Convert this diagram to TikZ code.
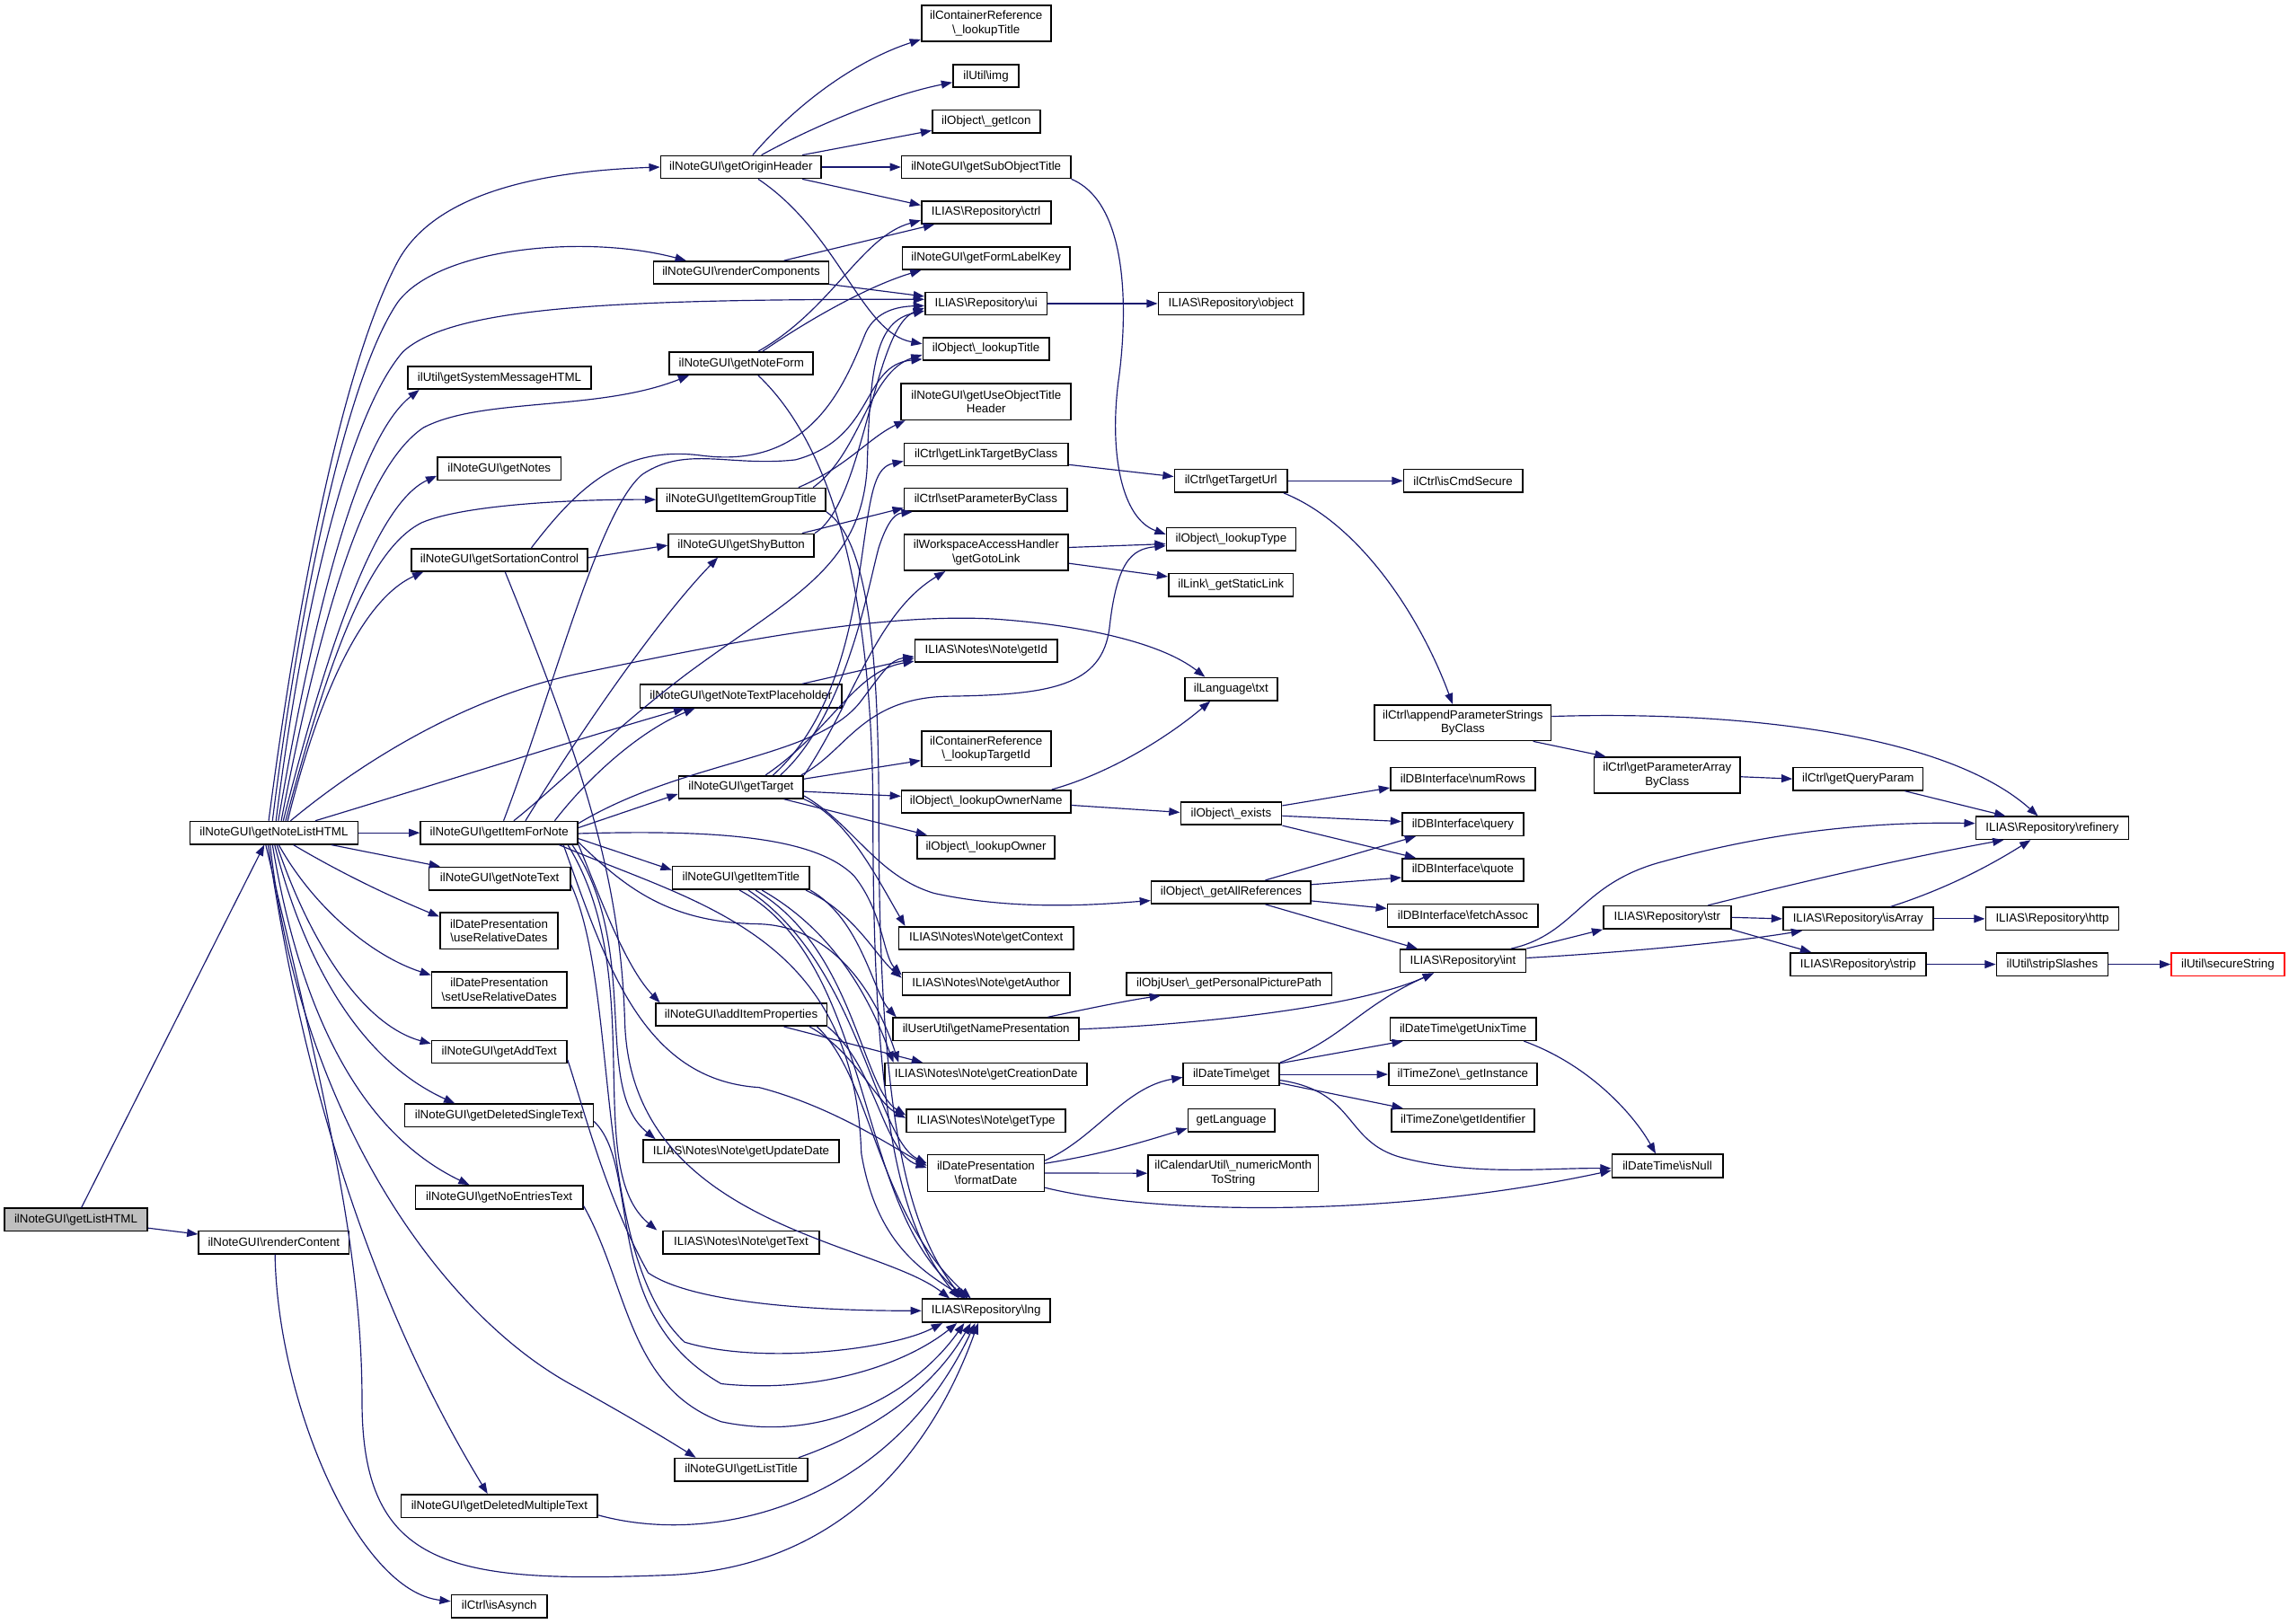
\documentclass[tikz,border=0pt]{standalone}
\usepackage{fontspec}
\setmainfont{Liberation Sans}
\usetikzlibrary{arrows.meta}
\definecolor{edgec}{HTML}{191970}
\newcommand\BS{\textbackslash}
\newcommand\nb[7][]{\node[nd,#1,minimum width={(#3)-(#2)},minimum height={(#5)-(#4)}] (#6) at ({((#2)+(#3))/2},{((#4)+(#5))/2}) {#7};}
\begin{document}
\begin{tikzpicture}[x=1pt,y=-1pt,
 nd/.style={draw=black,line width=1pt,fill=white,inner sep=0pt,font=\fontsize{8.2}{9.5}\selectfont,align=center},
 ed/.style={draw=edgec,line width=0.72pt,-{Triangle[length=7.5pt,width=5.5pt]}}]
\useasboundingbox (0,0) rectangle (1568,1112);
% ---- nodes
\nb[fill={rgb,255:red,191;green,191;blue,191}]{3}{101}{827.8}{843.3}{lh}{ilNoteGUI\BS getListHTML}
\nb{130.1}{245.2}{562.8}{578.3}{gnl}{ilNoteGUI\BS getNoteListHTML}
\nb{136.1}{239.1}{843.3}{859}{rc}{ilNoteGUI\BS renderContent}
\nb{309.2}{374.8}{1092.7}{1108.4}{asy}{ilCtrl\BS isAsynch}
\nb{452.6}{562.6}{106.7}{122.2}{goh}{ilNoteGUI\BS getOriginHeader}
\nb{447.8}{567.6}{179}{194.3}{rcomp}{ilNoteGUI\BS renderComponents}
\nb{279.3}{405}{251}{266.6}{gsm}{ilUtil\BS getSystemMessageHTML}
\nb{458.6}{557.1}{241.2}{256.7}{gnf}{ilNoteGUI\BS getNoteForm}
\nb{299.7}{384.3}{313.2}{329}{gns}{ilNoteGUI\BS getNotes}
\nb{449.8}{565.6}{334.4}{350.2}{gigt}{ilNoteGUI\BS getItemGroupTitle}
\nb{281.8}{402.6}{375.8}{391.3}{gsc}{ilNoteGUI\BS getSortationControl}
\nb{457.9}{557.6}{365.8}{381.4}{gsb}{ilNoteGUI\BS getShyButton}
\nb{438.5}{576.7}{469}{484.8}{gntp}{ilNoteGUI\BS getNoteTextPlaceholder}
\nb{288.1}{395.8}{562.8}{578.3}{gifn}{ilNoteGUI\BS getItemForNote}
\nb{464.9}{550.3}{531.5}{547}{gt}{ilNoteGUI\BS getTarget}
\nb{293.9}{390.6}{594.1}{609.7}{gntx}{ilNoteGUI\BS getNoteText}
\nb{460.6}{554.6}{593.6}{609.4}{git}{ilNoteGUI\BS getItemTitle}
\nb{301.4}{382.3}{625.4}{650.2}{urd}{ilDatePresentation\\\BS useRelativeDates}
\nb{295.7}{388.3}{665.7}{690.4}{surd}{ilDatePresentation\\\BS setUseRelativeDates}
\nb{449.1}{566.4}{687.4}{702.9}{aip}{ilNoteGUI\BS addItemProperties}
\nb{295.7}{388.3}{712.8}{728.4}{gat}{ilNoteGUI\BS getAddText}
\nb{277.3}{406.4}{756.4}{772.1}{gdst}{ilNoteGUI\BS getDeletedSingleText}
\nb{440.5}{574.9}{780.9}{796.6}{gud}{ILIAS\BS Notes\BS Note\BS getUpdateDate}
\nb{284.6}{399.3}{812.3}{828.1}{gnet}{ilNoteGUI\BS getNoEntriesText}
\nb{454.1}{561.3}{843.3}{859}{ntext}{ILIAS\BS Notes\BS Note\BS getText}
\nb{462.1}{553.3}{999.1}{1014.8}{glt}{ilNoteGUI\BS getListTitle}
\nb{274.8}{409.4}{1023.9}{1039.6}{gdmt}{ilNoteGUI\BS getDeletedMultipleText}
\nb{631.2}{719.8}{3.5}{28.3}{crlt}{ilContainerReference\\\BS\_lookupTitle}
\nb{652.8}{698}{44.3}{59.8}{img}{ilUtil\BS img}
\nb{638.7}{712.5}{75.4}{90.9}{gic}{ilObject\BS\_getIcon}
\nb{617.6}{733.4}{106.7}{122.2}{gsot}{ilNoteGUI\BS getSubObjectTitle}
\nb{631.2}{719.8}{137.8}{153.3}{ctrl}{ILIAS\BS Repository\BS ctrl}
\nb{618.1}{732.9}{169.1}{184.6}{gflk}{ilNoteGUI\BS getFormLabelKey}
\nb{633.7}{717.3}{200.2}{215.7}{ui}{ILIAS\BS Repository\BS ui}
\nb{632.2}{718.6}{231.3}{246.8}{olt}{ilObject\BS\_lookupTitle}
\nb{617.4}{733.7}{262.8}{287.6}{guoth}{ilNoteGUI\BS getUseObjectTitle\\Header}
\nb{619.4}{731.7}{303.6}{319.1}{gltc}{ilCtrl\BS getLinkTargetByClass}
\nb{619.4}{731.2}{334.4}{350.2}{spc}{ilCtrl\BS setParameterByClass}
\nb{619.4}{731.7}{366}{390.9}{ggl}{ilWorkspaceAccessHandler\\\BS getGotoLink}
\nb{626.7}{724.4}{438}{453.5}{nid}{ILIAS\BS Notes\BS Note\BS getId}
\nb{631.2}{719.8}{500.9}{525.3}{ltid}{ilContainerReference\\\BS\_lookupTargetId}
\nb{617.6}{733.4}{541.4}{556.9}{lon}{ilObject\BS\_lookupOwnerName}
\nb{628.2}{722.6}{572.5}{588.2}{low}{ilObject\BS\_lookupOwner}
\nb{615.6}{735.4}{634.9}{650.4}{nctx}{ILIAS\BS Notes\BS Note\BS getContext}
\nb{618.1}{732.9}{666.2}{681.7}{nauth}{ILIAS\BS Notes\BS Note\BS getAuthor}
\nb{611.8}{739.2}{697.3}{712.8}{gnp}{ilUserUtil\BS getNamePresentation}
\nb{606.3}{744.7}{728.4}{743.7}{ncd}{ILIAS\BS Notes\BS Note\BS getCreationDate}
\nb{620.9}{729.9}{759.9}{775.7}{ntype}{ILIAS\BS Notes\BS Note\BS getType}
\nb{635.4}{715.3}{791.1}{816.2}{fdate}{ilDatePresentation\\\BS formatDate}
\nb{631.7}{719.3}{890}{906}{lng}{ILIAS\BS Repository\BS lng}
\nb{793.5}{892.9}{200.2}{215.7}{obj}{ILIAS\BS Repository\BS object}
\nb{804.5}{881.9}{321.5}{337.3}{gtu}{ilCtrl\BS getTargetUrl}
\nb{961.5}{1042.9}{321.5}{337.3}{ics}{ilCtrl\BS isCmdSecure}
\nb{799}{887.7}{361.5}{377.4}{ltype}{ilObject\BS\_lookupType}
\nb{800.5}{885.9}{392.8}{408.5}{gsl}{ilLink\BS\_getStaticLink}
\nb{811.6}{874.9}{464.3}{479.9}{txt}{ilLanguage\BS txt}
\nb{941.7}{1062.5}{483}{507.4}{apsc}{ilCtrl\BS appendParameterStrings\\ByClass}
\nb{1091.9}{1192.1}{518.8}{543.5}{gpac}{ilCtrl\BS getParameterArray\\ByClass}
\nb{952.5}{1051.7}{525.8}{541.4}{nrows}{ilDBInterface\BS numRows}
\nb{808.8}{877.9}{549.6}{565.1}{oex}{ilObject\BS\_exists}
\nb{960.5}{1043.7}{556.9}{572.5}{query}{ilDBInterface\BS query}
\nb{960.5}{1043.7}{588.2}{603.8}{quote}{ilDBInterface\BS quote}
\nb{788.7}{898}{603.5}{619.1}{gar}{ilObject\BS\_getAllReferences}
\nb{950.5}{1053.7}{619.3}{635.1}{fassoc}{ilDBInterface\BS fetchAssoc}
\nb{959}{1045.2}{650.4}{666.2}{int}{ILIAS\BS Repository\BS int}
\nb{1098.4}{1185.7}{620.7}{636.3}{str}{ILIAS\BS Repository\BS str}
\nb{771.5}{912.3}{666.4}{681.7}{gppp}{ilObjUser\BS\_getPersonalPicturePath}
\nb{952.2}{1052.2}{697.3}{712.8}{gut}{ilDateTime\BS getUnixTime}
\nb{810.6}{876.4}{728.4}{743.7}{dtg}{ilDateTime\BS get}
\nb{951.2}{1053}{728.4}{743.7}{tzgi}{ilTimeZone\BS\_getInstance}
\nb{813.8}{873.1}{759.7}{775.4}{glang}{getLanguage}
\nb{953.2}{1051.2}{759.7}{775.4}{tzid}{ilTimeZone\BS getIdentifier}
\nb{786.5}{903}{791.4}{816.2}{nmts}{ilCalendarUtil\BS\_numericMonth\\ToString}
\nb{1104.2}{1180.1}{790.9}{806.6}{isnull}{ilDateTime\BS isNull}
\nb{1228.3}{1317.3}{525.8}{541.4}{gqp}{ilCtrl\BS getQueryParam}
\nb{1353.5}{1458.1}{559.5}{575}{ref}{ILIAS\BS Repository\BS refinery}
\nb{1221.4}{1324.2}{621.7}{637.2}{isarr}{ILIAS\BS Repository\BS isArray}
\nb{1360.2}{1451.4}{621.7}{637.2}{http}{ILIAS\BS Repository\BS http}
\nb{1226.4}{1319.3}{652.8}{668.5}{strip}{ILIAS\BS Repository\BS strip}
\nb{1367.6}{1444}{652.8}{668.5}{sslash}{ilUtil\BS stripSlashes}
\nb[draw=red]{1487.4}{1564.8}{652.8}{668.5}{sec}{ilUtil\BS secureString}
% ---- edges: getListHTML
\draw[ed] ([xshift=3.8]lh.north) -- ([xshift=-6.6]gnl.south);
\draw[ed] ([yshift=-5.8]lh.east) -- ([yshift=5.6]rc.west);
\draw[ed] ([xshift=0.8]rc.south) .. controls (190,960) and (245,1090) .. ([yshift=3.5]asy.west);
% getNoteListHTML
\draw[ed] ([xshift=-3.6]gnl.north) .. controls (200,440) and (230,260) .. (272,180) .. controls (293,140) and (350,118) .. (goh.west);
\draw[ed] ([xshift=-1]gnl.north) .. controls (203,430) and (235,262) .. (272.5,207) .. controls (300,170) and (400,160) .. ([xshift=-37.7]rcomp.north);
\draw[ed] ([xshift=1.4]gnl.north) .. controls (207,420) and (238,285) .. (276,241) .. controls (310,210) and (420,205) .. ([yshift=2.9]ui.west);
\draw[ed] ([xshift=3]gnl.north) .. controls (215,420) and (245,300) .. ([xshift=-55]gsm.south);
\draw[ed] ([xshift=5]gnl.north) .. controls (220,420) and (250,320) .. (290,293) .. controls (330,272) and (410,282) .. ([xshift=-35.8]gnf.south);
\draw[ed] ([xshift=6.4]gnl.north) .. controls (225,440) and (258,345) .. ([yshift=-4.9]gns.west);
\draw[ed] ([xshift=8]gnl.north) .. controls (228,440) and (255,375) .. (289,358) .. controls (320,345) and (400,342) .. (gigt.west);
\draw[ed] ([xshift=9.4]gnl.north) .. controls (220,470) and (250,410) .. ([xshift=-52.2]gsc.south);
\draw[ed] ([xshift=11.4]gnl.north) .. controls (250,520) and (320,478) .. (394,462) .. controls (500,440) and (600,420) .. (680,424) .. controls (740,428) and (795,440) .. ([xshift=-17.8]txt.north);
\draw[ed] ([xshift=28.3]gnl.north) .. controls (290,540) and (400,505) .. ([xshift=-38.6]gntp.south);
\draw[ed] (gnl.east) -- (gifn.west);
\draw[ed] ([xshift=39.3]gnl.south) -- ([xshift=-40.8]gntx.north);
\draw[ed] ([xshift=13.3]gnl.south) .. controls (230,596) and (262,612) .. ([yshift=9.8]urd.west);
\draw[ed] ([xshift=3.3]gnl.south) .. controls (215,622) and (255,655) .. ([yshift=10]surd.west);
\draw[ed] ([xshift=2]gnl.south) .. controls (212,645) and (248,702) .. ([yshift=5.6]gat.west);
\draw[ed] ([xshift=0.5]gnl.south) .. controls (210,665) and (250,728) .. ([xshift=-30.3]gdst.north);
\draw[ed] ([xshift=-1]gnl.south) .. controls (205,690) and (245,775) .. ([xshift=-20.4]gnet.north);
\draw[ed] ([xshift=-2.6]gnl.south) .. controls (205,760) and (300,900) .. (394,950) .. controls (430,970) and (455,985) .. ([xshift=-31]glt.north);
\draw[ed] ([xshift=-4]gnl.south) .. controls (210,760) and (262,905) .. ([xshift=-8.1]gdmt.north);
\draw[ed] ([xshift=-5.6]gnl.south) .. controls (225,760) and (248,860) .. (248,960) .. controls (248,1075) and (310,1085) .. (460,1079) .. controls (580,1073) and (640,990) .. ([xshift=-5.5]lng.south);
% getOriginHeader
\draw[ed] ([xshift=8]goh.north) .. controls (545,72) and (585,42) .. ([yshift=-11.1]crlt.west);
\draw[ed] ([xshift=14]goh.north) .. controls (560,85) and (610,65) .. ([yshift=-4.4]img.west);
\draw[ed] ([xshift=42]goh.north) -- ([yshift=-6.3]gic.west);
\draw[ed] (goh.east) -- (gsot.west);
\draw[ed] ([xshift=42]goh.south) -- ([yshift=5]ctrl.west);
\draw[ed] ([xshift=11.8]goh.south) .. controls (575,160) and (590,228) .. ([yshift=3.5]olt.west);
\draw[ed] (gsot.south east) .. controls (775,140) and (772,220) .. (766,262) .. controls (760,310) and (768,355) .. ([yshift=3.4]ltype.west);
% renderComponents, ui
\draw[ed] ([xshift=29.3]rcomp.north) -- ([xshift=-35.5]ctrl.south);
\draw[ed] (rcomp.south east) -- ([yshift=4.9]ui.west);
\draw[ed] (ui.east) -- (obj.west);
% getNoteForm
\draw[ed] ([xshift=11.5]gnf.north) .. controls (570,212) and (590,162) .. ([yshift=-5.4]ctrl.west);
\draw[ed] ([xshift=14.5]gnf.north) .. controls (560,215) and (598,195) .. ([xshift=-44.5]gflk.south);
\draw[ed] ([xshift=11.5]gnf.south) .. controls (575,310) and (598,420) .. (598,560) .. controls (598,760) and (615,840) .. ([xshift=-18.5]lng.north);
% getItemGroupTitle
\draw[ed] ([xshift=39.3]gigt.north) .. controls (580,320) and (595,300) .. ([xshift=-55.5]guoth.south);
\draw[ed] ([xshift=49.3]gigt.north) .. controls (590,310) and (595,255) .. ([yshift=-4]olt.west);
\draw[ed] (gigt.south east) .. controls (595,370) and (602,450) .. (602,560) .. controls (602,760) and (620,840) .. ([xshift=-16]lng.north);
% getShyButton
\draw[ed] ([xshift=41.7]gsb.north) -- ([yshift=-5.7]spc.west);
\draw[ed] (gsb.north east) .. controls (592,345) and (598,225) .. ([yshift=-3]ui.west);
% getSortationControl
\draw[ed] ([yshift=1.5]gsc.east) -- (gsb.west);
\draw[ed] ([xshift=21.8]gsc.north) .. controls (395,335) and (425,305) .. (480,312) .. controls (555,322) and (578,265) .. (593,228) .. controls (600,213) and (615,210) .. ([yshift=-1.5]ui.west);
\draw[ed] ([xshift=3.8]gsc.south) .. controls (398,520) and (425,600) .. (428,700) .. controls (432,840) and (600,850) .. ([xshift=-25]lng.north);
% getItemForNote
\draw[ed] ([xshift=18]gifn.north) .. controls (395,505) and (450,425) .. ([xshift=-16]gsb.south);
\draw[ed] ([xshift=38]gifn.north) .. controls (405,530) and (440,500) .. ([xshift=-31.6]gntp.south);
\draw[ed] ([yshift=3.5]gifn.east) -- ([yshift=-4.7]gt.west);
\draw[ed] ([yshift=-4]gifn.east) -- ([yshift=5.5]git.west);
\draw[ed] (gifn.south east) .. controls (410,612) and (428,662) .. ([xshift=-55.7]aip.north);
\draw[ed] ([xshift=50]gifn.south) .. controls (440,650) and (405,745) .. ([xshift=-58.7]gud.north);
\draw[ed] ([xshift=47]gifn.south) .. controls (445,670) and (398,800) .. ([xshift=-57.7]ntext.north);
\draw[ed] ([xshift=3]gifn.north) .. controls (380,470) and (410,350) .. (440,325) .. controls (470,305) and (500,320) .. (545,315) .. controls (600,300) and (590,250) .. ([yshift=-7]olt.west);
\draw[ed] ([xshift=10]gifn.north) .. controls (380,540) and (420,500) .. (470,462) .. controls (540,410) and (590,390) .. (594,320) .. controls (596,250) and (600,220) .. ([yshift=-5]ui.west);
\draw[ed] ([yshift=6.5]gifn.east) .. controls (470,520) and (560,520) .. (590,480) .. controls (605,460) and (610,452) .. ([yshift=-4]nid.west);
\draw[ed] ([yshift=-0.5]gifn.east) .. controls (500,568) and (560,575) .. (585,600) .. controls (605,625) and (605,655) .. ([yshift=6]nauth.west);
\draw[ed] ([yshift=-6.5]gifn.east) .. controls (430,610) and (460,632) .. (519,633) .. controls (570,634) and (600,680) .. ([xshift=-60]ncd.north);
\draw[ed] ([xshift=44]gifn.south) .. controls (415,660) and (440,740) .. (520,745) .. controls (570,758) and (610,785) .. ([yshift=5]fdate.west);
\draw[ed] ([xshift=41]gifn.south) .. controls (480,620) and (585,640) .. (590,790) .. controls (600,850) and (630,870) .. ([xshift=-14]lng.north);
% getTarget
\draw[ed] ([xshift=16.8]gt.north) .. controls (570,500) and (585,460) .. ([yshift=-7.2]nid.west);
\draw[ed] ([xshift=22]gt.north) .. controls (575,490) and (585,420) .. (592,370) .. controls (597,335) and (600,320) .. ([yshift=-4.6]gltc.west);
\draw[ed] ([xshift=27]gt.north) .. controls (580,490) and (595,400) .. (602,375) .. controls (607,360) and (612,352) .. ([xshift=-50.3]spc.south);
\draw[ed] (gt.north east) .. controls (585,480) and (600,420) .. ([xshift=-28]ggl.south);
\draw[ed] ([yshift=5.6]gt.east) -- ([yshift=-7.9]ltid.west);
\draw[ed] ([yshift=-3]gt.east) -- ([yshift=3.7]lon.west);
\draw[ed] ([xshift=29.4]gt.south) -- ([xshift=-40.4]low.north);
\draw[ed] ([yshift=-6]gt.east) .. controls (585,565) and (600,600) .. (640,612) .. controls (700,625) and (760,619) .. ([yshift=-5.7]gar.west);
\draw[ed] (gt.south east) .. controls (580,560) and (600,600) .. ([xshift=-55.5]nctx.north);
\draw[ed] ([xshift=-2]gt.north east) .. controls (580,515) and (590,478) .. (650,477) .. controls (720,476) and (755,470) .. (760,430) .. controls (765,385) and (775,376) .. ([yshift=-4.5]ltype.west);
\draw[ed] ([xshift=41.9]gntp.north) -- ([yshift=-5.2]nid.west);
% getItemTitle
\draw[ed] ([xshift=44.4]git.south) .. controls (585,625) and (600,655) .. ([yshift=4]nauth.west);
\draw[ed] (git.south east) .. controls (590,630) and (598,680) .. ([xshift=-61.5]gnp.north);
\draw[ed] ([xshift=14.4]git.south) .. controls (575,640) and (598,690) .. ([xshift=-63.5]ncd.north);
\draw[ed] ([xshift=10]git.south) .. controls (585,650) and (590,745) .. ([yshift=3.8]ntype.west);
\draw[ed] ([xshift=5]git.south) .. controls (588,660) and (600,780) .. ([yshift=6.6]fdate.west);
\draw[ed] ([xshift=-1]git.south) .. controls (600,660) and (585,830) .. ([xshift=-12.5]lng.north);
% addItemProperties
\draw[ed] ([xshift=29.2]aip.south) -- ([xshift=-43.5]ncd.north);
\draw[ed] ([xshift=46.8]aip.south) .. controls (585,720) and (600,755) .. ([yshift=1.8]ntype.west);
\draw[ed] (aip.south east) .. controls (600,730) and (605,790) .. ([yshift=3.6]fdate.west);
\draw[ed] ([xshift=52]aip.south) .. controls (598,740) and (600,830) .. ([xshift=-10.5]lng.north);
% others into lng
\draw[ed] ([yshift=-5.4]gat.east) .. controls (400,760) and (415,820) .. (444,872) .. controls (470,890) and (540,898) .. (lng.west);
\draw[ed] ([yshift=-4]gntx.east) .. controls (425,680) and (405,860) .. (469,919.5) .. controls (520,935) and (610,925) .. ([xshift=-30]lng.south);
\draw[ed] ([yshift=-4]gdst.east) .. controls (440,800) and (410,900) .. (494,948) .. controls (560,955) and (620,935) .. ([xshift=-20]lng.south);
\draw[ed] ([yshift=-6]gnet.east) .. controls (430,880) and (430,950) .. (494,974) .. controls (570,990) and (630,950) .. ([xshift=-15]lng.south);
\draw[ed] ([xshift=39.3]glt.north) .. controls (600,980) and (640,950) .. ([xshift=-10.5]lng.south);
\draw[ed] ([yshift=-6.3]gdmt.east) .. controls (490,1060) and (610,1030) .. ([xshift=-7.5]lng.south);
% right part
\draw[ed] ([yshift=-7]gltc.east) -- ([yshift=2.9]gtu.west);
\draw[ed] (gtu.east) -- (ics.west);
\draw[ed] ([xshift=36.2]gtu.south) .. controls (930,358) and (972,420) .. ([xshift=-7]apsc.north);
\draw[ed] ([yshift=3.4]ggl.east) -- ([yshift=-3.2]ltype.west);
\draw[ed] ([yshift=-7.5]ggl.east) -- ([yshift=5.6]gsl.west);
\draw[ed] ([xshift=44.9]lon.north) .. controls (760,530) and (800,505) .. ([xshift=-14.2]txt.south);
\draw[ed] ([yshift=-2.5]lon.east) -- ([yshift=0.8]oex.west);
\draw[ed] ([yshift=5.4]oex.east) -- ([yshift=-6.1]nrows.west);
\draw[ed] ([yshift=-1.6]oex.east) -- ([yshift=1.9]query.west);
\draw[ed] (oex.south east) -- ([xshift=-32.3]quote.north);
\draw[ed] ([xshift=23.4]gar.north) -- ([xshift=-32.3]query.south);
\draw[ed] ([yshift=5.3]gar.east) -- ([yshift=-5.2]quote.west);
\draw[ed] ([yshift=-5.9]gar.east) -- ([yshift=4.8]fassoc.west);
\draw[ed] ([xshift=23.4]gar.south) -- ([xshift=-31.1]int.north);
\draw[ed] ([xshift=42.3]gnp.north) .. controls (750,690) and (775,685) .. ([xshift=-46.9]gppp.south);
\draw[ed] (gnp.east) .. controls (820,702) and (930,690) .. ([xshift=-20]int.south);
\draw[ed] ([yshift=8.6]fdate.east) .. controls (750,780) and (770,745) .. ([yshift=-2]dtg.west);
\draw[ed] ([yshift=6.6]fdate.east) .. controls (760,790) and (790,780) .. ([yshift=-5.5]glang.west);
\draw[ed] (fdate.east) -- (nmts.west);
\draw[ed] ([yshift=-10]fdate.east) .. controls (790,832) and (950,835) .. ([yshift=-3.2]isnull.west);
\draw[ed] (dtg.north east) .. controls (920,712) and (930,690) .. ([xshift=-20]int.south);
\draw[ed] ([yshift=7.6]dtg.east) -- ([xshift=-41.2]gut.south);
\draw[ed] (dtg.east) -- (tzgi.west);
\draw[ed] ([yshift=-6]dtg.east) -- ([xshift=-41.2]tzid.north);
\draw[ed] ([yshift=-4]dtg.east) .. controls (930,748) and (920,782) .. (960,793) .. controls (1010,806) and (1060,800) .. ([yshift=-1.7]isnull.west);
\draw[ed] ([xshift=41.7]gut.south) .. controls (1090,730) and (1120,765) .. ([xshift=-8]isnull.north);
\draw[ed] ([xshift=32.9]int.north) .. controls (1080,640) and (1082,605) .. (1140,590) .. controls (1220,568) and (1290,563) .. ([yshift=3.2]ref.west);
\draw[ed] (int.north east) -- (str.south west);
\draw[ed] ([yshift=2]int.east) .. controls (1120,652) and (1190,645) .. ([xshift=-38.3]isarr.south);
\draw[ed] ([xshift=28]str.north) .. controls (1250,600) and (1320,585) .. ([xshift=-33.3]ref.south);
\draw[ed] (str.east) -- (isarr.west);
\draw[ed] (str.south east) -- ([xshift=-32.2]strip.north);
\draw[ed] ([xshift=22.1]isarr.north) .. controls (1330,610) and (1360,595) .. ([xshift=-14.8]ref.south);
\draw[ed] (isarr.east) -- (http.west);
\draw[ed] (strip.east) -- (sslash.west);
\draw[ed] (sslash.east) -- (sec.west);
\draw[ed] ([yshift=-1]gpac.east) -- (gqp.west);
\draw[ed] ([xshift=31.9]gqp.south) -- ([xshift=-32]ref.north);
\draw[ed] ([xshift=48.1]apsc.south) -- ([xshift=-42]gpac.north);
\draw[ed] ([yshift=4.4]apsc.east) .. controls (1180,487) and (1330,500) .. ([xshift=-9.8]ref.north);
\end{tikzpicture}
\end{document}
